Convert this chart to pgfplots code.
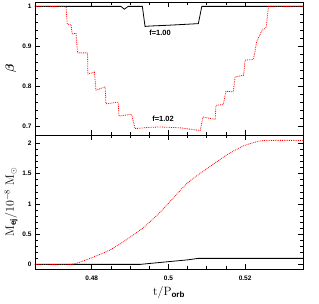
\documentclass[border=0pt]{standalone}
\usepackage{amsmath}
\usepackage{pgfplots}
\pgfplotsset{compat=1.18}
\usepackage{fontspec}
\setsansfont{Liberation Sans}
\begin{document}
\begin{tikzpicture}
\path[use as bounding box] (-35pt,-35pt) rectangle (284pt,269pt);
\pgfplotsset{
  myax/.style={
    scale only axis, width=268pt,
    xmin=0.4652, xmax=0.5351,
    xtick={0.48,0.5,0.52}, minor x tick num=3,
    axis line style={line width=0.8pt},
    tick style={line width=0.6pt, black},
    major tick length=5pt, minor tick length=3pt,
    tick align=inside,
    ticklabel style={font=\sffamily\bfseries\fontsize{6.5}{7}\selectfont},
    /pgf/number format/assume math mode=true,
    ylabel style={at={(axis description cs:-0.09,0.5)}, anchor=center, font=\fontsize{12}{13}\selectfont},
  }
}
\begin{axis}[myax, at={(0,134pt)}, anchor=south west, height=133pt,
  ymin=0.679, ymax=1.011,
  ytick={0.7,0.8,0.9,1}, yticklabels={0.7,0.8,0.9,1}, minor y tick num=4,
  xticklabels={},
  ylabel={$\boldsymbol{\beta}$},
  ylabel style={font=\fontsize{13}{14}\selectfont},
]
\addplot[black, line width=0.8pt] coordinates {
(0.465,1) (0.4876,1) (0.4885,0.993) (0.4895,1) (0.4932,1) (0.4939,0.950)
(0.4952,0.951) (0.5000,0.953) (0.5040,0.955) (0.5078,0.957) (0.5087,1) (0.536,1)};
\addplot[red, densely dotted, line width=0.8pt] coordinates {
(0.465,1.0) (0.4733,1.0) (0.4736,0.956) (0.4746,0.954) (0.4749,0.931) (0.4759,0.933)
(0.4763,0.884) (0.4789,0.884) (0.4790,0.831) (0.4807,0.836) (0.4811,0.791) (0.4835,0.799)
(0.4837,0.757) (0.4869,0.761) (0.4871,0.726) (0.4904,0.731) (0.4913,0.695) (0.4950,0.698)
(0.4978,0.699) (0.5030,0.697) (0.5083,0.690) (0.5090,0.724) (0.5122,0.718) (0.5124,0.753)
(0.5143,0.755) (0.5150,0.788) (0.5169,0.787) (0.5174,0.824) (0.5196,0.828) (0.5200,0.866)
(0.5222,0.8675) (0.5230,0.9115) (0.5244,0.94) (0.5255,0.9475) (0.5261,1.0) (0.536,1.0)};
\node[font=\sffamily\bfseries\fontsize{7.5}{8}\selectfont] at (axis cs:0.4978,0.935) {f=1.00};
\node[font=\sffamily\bfseries\fontsize{7.5}{8}\selectfont] at (axis cs:0.4986,0.72) {f=1.02};
\end{axis}
\begin{axis}[myax, at={(0,0)}, anchor=south west, height=134pt,
  ymin=-0.076, ymax=2.14,
  ytick={0,0.5,1,1.5,2}, yticklabels={0,0.5,1,1.5,2}, minor y tick num=4,
  xticklabels={0.48,0.5,0.52},
  xticklabel style={yshift=-3pt},
  xlabel={$\mathrm{t/P_{\text{\sffamily\bfseries orb}}}$},
  xlabel style={at={(axis description cs:0.5,-0.175)}, anchor=center, font=\fontsize{12}{13}\selectfont},
  ylabel={$\mathrm{M_{\text{\sffamily\bfseries ej}}/10^{-8}\ M_{\odot}}$},
]
\addplot[black, line width=0.8pt] coordinates {
(0.465,0) (0.4926,0) (0.495,0.015) (0.5,0.045) (0.505,0.075) (0.5078,0.10) (0.536,0.10)};
\addplot[red, densely dotted, line width=0.8pt, smooth, tension=0.4] coordinates {
(0.465,0) (0.4744,0) (0.477,0.04) (0.480,0.11) (0.4848,0.24) (0.4891,0.41) (0.4935,0.61)
(0.4978,0.86) (0.5013,1.1) (0.5052,1.36) (0.5109,1.62) (0.5152,1.81) (0.5196,1.96)
(0.5231,2.03) (0.5257,2.05) (0.536,2.05)};
\end{axis}
\end{tikzpicture}
\end{document}
